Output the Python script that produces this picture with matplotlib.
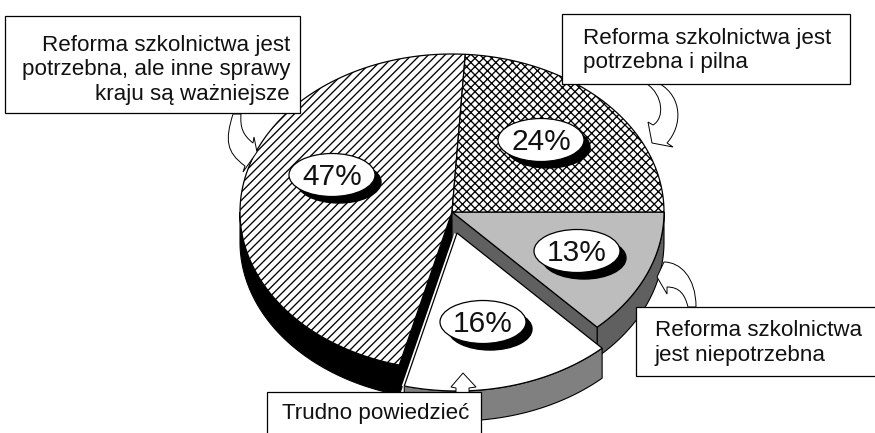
#! /usr/bin/env python3
import numpy as np
import matplotlib
matplotlib.use('Agg')
from matplotlib import pyplot as plt
from matplotlib.patches import Polygon, Ellipse, Rectangle, PathPatch
from matplotlib.path import Path

plt.rcParams['font.family'] = ['Liberation Sans', 'DejaVu Sans']
plt.rcParams['hatch.linewidth'] = 0.95

# ==== DATA ====

# clockwise from the 3 o'clock position
answers = ['Reforma szkolnictwa\njest niepotrzebna',
           'Trudno powiedzieć',
           'Reforma szkolnictwa jest\npotrzebna, ale inne sprawy\nkraju są ważniejsze',
           'Reforma szkolnictwa jest\npotrzebna i pilna']
shares = [13, 16, 47, 24]
share_labels = ['13%', '16%', '47%', '24%']

# ==== LAYOUT (pixels of the picture) ====

CX, CY = 452, 212
RX, RY = 212, 158
DEPTH = 30
EXPLODE = (5, 21)     # the 16% slice sits lower

top_colors = ['#bdbdbd', 'white', 'white', 'white']
wall_colors = ['#606060', '#808080', 'black', None]
hatches = [None, None, '////', 'xxxx']
oval_xy = [(577, 251), (483, 322), (332, 175), (541, 140)]
box_rects = [(636, 307, 245, 69), (267, 392, 214, 46), (5, 16, 295, 97), (562, 14, 288, 70)]
text_xy = [(655, 343), (282, 414), (290, 70), (583, 50.5)]
text_ha = ['left', 'left', 'right', 'left']

fig = plt.figure(figsize=(8.75, 4.33), dpi=100)
ax = fig.add_axes([0, 0, 1, 1])
ax.set_xlim(0, 875)
ax.set_ylim(433, 0)
ax.axis('off')


def arc(a0, a1, dx=0, dy=0):
    t = np.radians(np.linspace(a0, a1, 120))
    return np.column_stack([CX + dx + RX*np.cos(t), CY + dy + RY*np.sin(t)])


def wedge(a0, a1, dx=0, dy=0):
    return np.vstack([[CX + dx, CY + dy], arc(a0, a1, dx, dy)])


def wall(a0, a1, dx=0, dy=0):
    # outer wall, only the front half of the ellipse shows
    a0, a1 = max(a0, 0), min(a1, 180)
    top = arc(a0, a1, dx, dy)
    return np.vstack([top, top[::-1] + [0, DEPTH]])


def cut_face(a, dx=0, dy=0):
    rim = arc(a, a, dx, dy)[0]
    apex = np.array([CX + dx, CY + dy])
    return np.array([apex, rim, rim + [0, DEPTH], apex + [0, DEPTH]])


edges = np.cumsum([0] + shares) * 3.6
starts, ends = edges[:-1], edges[1:]

# walls first
ax.add_patch(Polygon(wall(starts[2], ends[2]), fc='black', ec='black', lw=0.8, zorder=1))
ax.add_patch(Polygon(cut_face(starts[2]), fc='black', ec='black', lw=0.8, zorder=1))
ax.add_patch(Polygon(wall(starts[0], ends[0]), fc=wall_colors[0], ec='black', lw=0.8, zorder=1))
ax.add_patch(Polygon(cut_face(ends[0]), fc=wall_colors[0], ec='black', lw=0.8, zorder=1))

# slice tops
for i in [0, 2, 3]:
    ax.add_patch(Polygon(wedge(starts[i], ends[i]), fc=top_colors[i], ec='black', lw=0.9,
                         hatch=hatches[i], zorder=2))

# exploded slice over the others, with the thin white gap on its left side
dx, dy = EXPLODE
ax.add_patch(Polygon(wall(starts[1], ends[1], dx, dy), fc=wall_colors[1], ec='black', lw=0.8, zorder=3))
ax.add_patch(Polygon(wedge(starts[1], ends[1], dx - 2.5, dy), fc='white', ec='none', zorder=3))
ax.add_patch(Polygon(wedge(starts[1], ends[1], dx, dy), fc='white', ec='black', lw=0.9, zorder=3))

# percent ovals with the black crescent
for (x, y), lab in zip(oval_xy, share_labels):
    ax.add_patch(Ellipse((x + 7, y + 7), 84, 42, fc='black', ec='black', zorder=4))
    ax.add_patch(Ellipse((x, y), 86, 43, fc='white', ec='black', lw=0.9, zorder=5))
    ax.text(x, y + 2, lab, fontsize=21.5, ha='center', va='center', color='#111111', zorder=6)

# curved callout arrows
M, L, C, Z = Path.MOVETO, Path.LINETO, Path.CURVE4, Path.CLOSEPOLY
arrows = [
    ([(233, 114), (225, 140), (226, 152), (245, 166), (243, 172), (257, 152), (254, 137), (253, 143),
      (243, 135), (240, 128), (241, 114), (241, 114)],
     [M, C, C, C, L, L, L, L, C, C, C, Z]),
    ([(660, 84), (682, 97), (683, 125), (667, 143), (673, 147), (652, 143), (648, 122), (653, 125),
      (665, 118), (663, 95), (647, 84), (647, 84)],
     [M, C, C, C, L, L, L, L, C, C, C, Z]),
    ([(696, 307), (696, 277), (680, 262), (664, 262), (657, 277), (667, 294), (667, 287),
      (680, 287), (685, 295), (688, 307), (688, 307)],
     [M, C, C, C, L, L, L, C, C, C, Z]),
    ([(456, 393), (456, 388), (451, 387), (463, 373), (476, 387), (469, 388), (469, 393), (456, 393)],
     [M, L, L, L, L, L, L, Z]),
]
for verts, codes in arrows:
    ax.add_patch(PathPatch(Path(verts, codes), fc='white', ec='black', lw=0.7, zorder=7))

# answer boxes
for (x, y, w, h), txt, (tx, ty), ha in zip(box_rects, answers, text_xy, text_ha):
    ax.add_patch(Rectangle((x, y), w, h, fc='white', ec='black', lw=0.9, zorder=8))
    ax.text(tx, ty, txt, fontsize=16.1, ha=ha, va='center', color='#111111',
            linespacing=1.2, multialignment=ha, zorder=9)

fig.savefig('out.png', dpi=100)
